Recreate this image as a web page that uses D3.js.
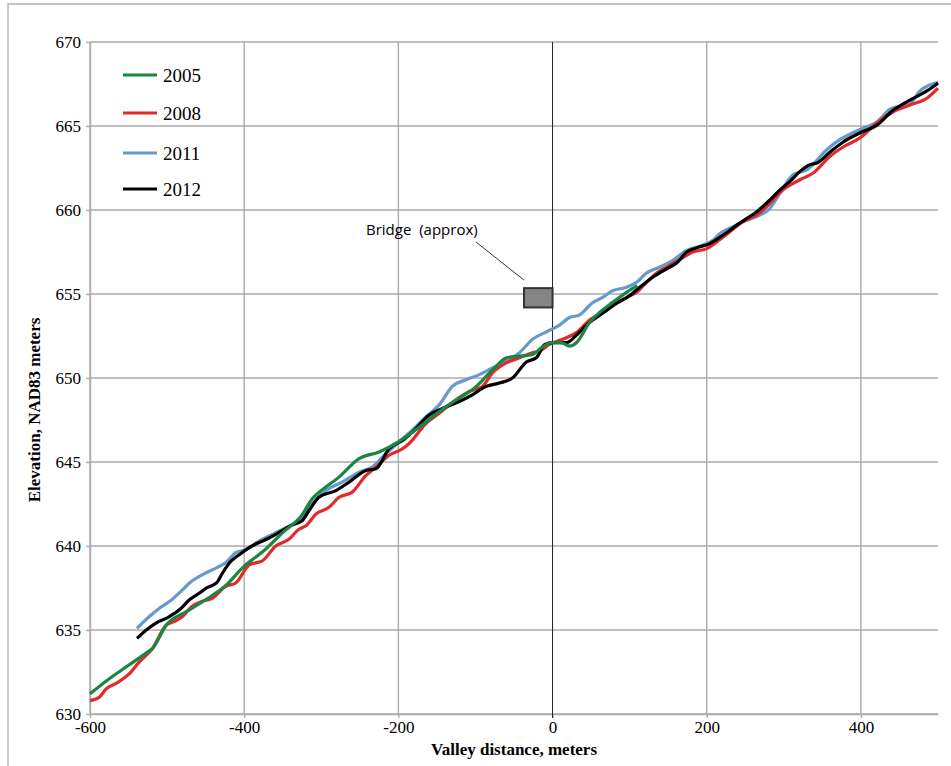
<!DOCTYPE html>
<html>
<head>
<meta charset="utf-8">
<script src="https://cdn.jsdelivr.net/npm/d3@7"></script>
<style>
  html, body { margin: 0; padding: 0; background: #fff; }
  svg { display: block; }
</style>
</head>
<body>
<svg id="chart" width="951" height="766"></svg>
<script>
// Valley profile, [distance m, elevation m]
const profile2005 = [
  [-600, 631.2], [-575, 632.1], [-550, 632.9], [-525, 633.7], [-519, 633.9], [-501, 635.3],
  [-475, 636.1], [-450, 636.8], [-425, 637.6], [-400, 638.8], [-375, 639.7], [-350, 640.8],
  [-325, 641.85], [-312, 642.8], [-300, 643.3], [-277, 644.1], [-251, 645.2], [-225, 645.6],
  [-200, 646.2], [-175, 647.0], [-150, 647.9], [-125, 648.7], [-104, 649.3], [-73, 650.7],
  [-60, 651.2], [-26, 651.4], [-13, 651.85], [0, 652.1], [11, 652.1], [22, 651.9],
  [31, 652.1], [48, 653.3], [61, 653.9], [78, 654.5], [96, 655.1], [110, 655.5]
];
const profile2008 = [
  [-600, 630.8], [-588, 631.0], [-579, 631.5], [-565, 631.85], [-549, 632.4], [-536, 633.1],
  [-519, 633.9], [-501, 635.3], [-491, 635.5], [-480, 635.8], [-468, 636.4], [-455, 636.7],
  [-441, 636.9], [-424, 637.6], [-411, 637.8], [-393, 638.9], [-377, 639.1], [-359, 640.0],
  [-342, 640.4], [-329, 641.0], [-320, 641.2], [-307, 641.9], [-290, 642.3], [-277, 642.9],
  [-260, 643.2], [-242, 644.2], [-229, 644.7], [-212, 645.4], [-194, 645.8], [-186, 646.1],
  [-164, 647.3], [-147, 647.9], [-125, 648.7], [-108, 649.2], [-91, 649.5], [-78, 650.3],
  [-60, 650.9], [-43, 651.2], [-26, 651.5], [-17, 651.6], [-4, 652.0], [18, 652.4],
  [31, 652.7], [48, 653.45], [65, 653.9], [78, 654.3], [96, 654.8], [109, 655.1],
  [122, 655.7], [135, 656.25], [148, 656.6], [165, 657.05], [182, 657.5], [200, 657.7],
  [213, 658.1], [230, 658.7], [247, 659.3], [265, 659.7], [282, 660.4], [299, 661.2],
  [321, 661.8], [338, 662.2], [360, 663.2], [377, 663.75], [399, 664.3], [421, 665.2],
  [442, 665.85], [464, 666.25], [487, 666.7], [500, 667.25]
];
const profile2011 = [
  [-539, 635.1], [-523, 635.8], [-510, 636.3], [-494, 636.8], [-482, 637.3], [-471, 637.8],
  [-454, 638.3], [-436, 638.7], [-424, 639.0], [-411, 639.6], [-397, 639.8], [-384, 640.2],
  [-359, 640.8], [-333, 641.4], [-325, 641.65], [-312, 642.5], [-294, 643.3], [-273, 643.8],
  [-251, 644.4], [-234, 644.7], [-216, 645.5], [-199, 646.2], [-182, 646.9], [-164, 647.7],
  [-147, 648.4], [-130, 649.5], [-112, 649.9], [-95, 650.2], [-78, 650.6], [-60, 651.0],
  [-43, 651.5], [-26, 652.3], [-8, 652.75], [9, 653.15], [22, 653.6], [35, 653.75],
  [51, 654.45], [65, 654.8], [78, 655.2], [96, 655.4], [109, 655.7], [122, 656.25],
  [139, 656.6], [156, 657.0], [174, 657.6], [191, 657.85], [208, 658.2], [217, 658.6],
  [234, 659.0], [252, 659.4], [269, 659.7], [282, 660.1], [295, 661.0], [312, 662.1],
  [330, 662.4], [356, 663.6], [373, 664.2], [399, 664.8], [421, 665.25], [438, 666.0],
  [464, 666.35], [477, 667.1], [500, 667.6]
];
const profile2012 = [
  [-539, 634.5], [-527, 635.0], [-515, 635.4], [-497, 635.8], [-484, 636.2], [-471, 636.8],
  [-458, 637.2], [-449, 637.5], [-436, 637.8], [-428, 638.4], [-419, 639.0], [-406, 639.5],
  [-390, 640.0], [-371, 640.4], [-355, 640.8], [-338, 641.25], [-325, 641.5], [-316, 642.1],
  [-303, 642.9], [-281, 643.3], [-264, 643.8], [-242, 644.5], [-229, 644.6], [-212, 645.8],
  [-194, 646.3], [-177, 647.0], [-160, 647.8], [-142, 648.2], [-121, 648.6], [-104, 649.0],
  [-86, 649.5], [-69, 649.7], [-52, 650.0], [-34, 650.95], [-21, 651.2], [-10, 652.0],
  [0, 652.1], [18, 652.1], [31, 652.55], [48, 653.3], [65, 653.85], [83, 654.45],
  [100, 654.9], [113, 655.4], [130, 656.0], [148, 656.5], [161, 656.85], [174, 657.5],
  [187, 657.75], [204, 658.0], [221, 658.5], [239, 659.1], [252, 659.5], [265, 659.9],
  [282, 660.6], [295, 661.2], [308, 661.7], [321, 662.3], [334, 662.7], [343, 662.8],
  [360, 663.45], [377, 664.05], [399, 664.6], [421, 665.05], [442, 665.95], [464, 666.55],
  [486, 667.1], [500, 667.55]
];
const seriesNames = ['2005', '2008', '2011', '2012'];
const xTicks = [-600, -400, -200, 0, 200, 400];
const yTicks = [630, 635, 640, 645, 650, 655, 660, 665, 670];
const bridgeBox = { x0: -37, x1: 0, y0: 654.2, y1: 655.35 };

const colors = { '2005': '#1b8543', '2008': '#e2292c', '2011': '#6699cc', '2012': '#000000' };
const profiles = { '2005': profile2005, '2008': profile2008, '2011': profile2011, '2012': profile2012 };

const svg = d3.select('#chart');
const margin = { top: 42, right: 13, bottom: 52, left: 90 };
const width = 951, height = 766;
const serif = '"Liberation Serif", "Times New Roman", serif';

const x = d3.scaleLinear().domain([-600, 500]).range([margin.left, width - margin.right]);
const y = d3.scaleLinear().domain([630, 670]).range([height - margin.bottom, margin.top]);

// outer frame (cropped at right/bottom)
svg.append('path')
  .attr('d', `M8,${height} L8,4 L${width},4`)
  .attr('fill', 'none')
  .attr('stroke', '#b3b3b3')
  .attr('stroke-width', 1.5);

const gridColor = '#ababab';

// horizontal grid
svg.append('g')
  .selectAll('line')
  .data(yTicks)
  .join('line')
  .attr('x1', x(-600)).attr('x2', x(500))
  .attr('y1', d => y(d)).attr('y2', d => y(d))
  .attr('stroke', gridColor).attr('stroke-width', 1.4);

// vertical grid
svg.append('g')
  .selectAll('line')
  .data(xTicks.filter(d => d !== 0))
  .join('line')
  .attr('x1', d => x(d)).attr('x2', d => x(d))
  .attr('y1', y(630)).attr('y2', y(670))
  .attr('stroke', gridColor).attr('stroke-width', 1.4);

// Y axis
const yAxis = svg.append('g')
  .attr('transform', `translate(${x(-600)},0)`)
  .call(d3.axisLeft(y).tickValues(yTicks).tickFormat(d => String(d))
    .tickSize(4).tickPadding(5).tickSizeOuter(0));
yAxis.select('.domain').attr('stroke', gridColor).attr('stroke-width', 1.4);
yAxis.selectAll('.tick line').attr('stroke', gridColor).attr('stroke-width', 1.4);
yAxis.selectAll('.tick text')
  .attr('font-family', serif)
  .attr('font-size', 17).attr('fill', '#000');

// X axis
const xAxis = svg.append('g')
  .attr('transform', `translate(0,${y(630)})`)
  .call(d3.axisBottom(x).tickValues(xTicks).tickFormat(d => String(d))
    .tickSize(4).tickPadding(3).tickSizeOuter(0));
xAxis.select('.domain').attr('stroke', gridColor).attr('stroke-width', 1.4);
xAxis.selectAll('.tick line').attr('stroke', gridColor).attr('stroke-width', 1.4);
xAxis.selectAll('.tick text')
  .attr('font-family', serif)
  .attr('font-size', 17).attr('fill', '#000');

// zero line
svg.append('line')
  .attr('x1', x(0)).attr('x2', x(0))
  .attr('y1', y(630) + 4).attr('y2', y(670))
  .attr('stroke', '#222').attr('stroke-width', 1);

// axis titles
svg.append('text')
  .attr('x', (x(-600) + x(500)) / 2).attr('y', 755)
  .attr('text-anchor', 'middle')
  .attr('font-family', serif)
  .attr('font-weight', 'bold').attr('font-size', 17)
  .text('Valley distance, meters');

svg.append('text')
  .attr('transform', `translate(40,410) rotate(-90)`)
  .attr('text-anchor', 'middle')
  .attr('font-family', serif)
  .attr('font-weight', 'bold').attr('font-size', 17)
  .text('Elevation, NAD83 meters');

// profile lines
const line = d3.line()
  .x(d => x(d[0]))
  .y(d => y(d[1]))
  .curve(d3.curveMonotoneX);

['2011', '2008', '2012', '2005'].forEach(name => {
  svg.append('path')
    .datum(profiles[name])
    .attr('fill', 'none')
    .attr('stroke', colors[name])
    .attr('stroke-width', 3.2)
    .attr('stroke-linejoin', 'round')
    .attr('d', line);
});

// bridge marker
svg.append('rect')
  .attr('x', x(bridgeBox.x0)).attr('y', y(bridgeBox.y1))
  .attr('width', x(bridgeBox.x1) - x(bridgeBox.x0))
  .attr('height', y(bridgeBox.y0) - y(bridgeBox.y1))
  .attr('fill', '#858585')
  .attr('stroke', '#333').attr('stroke-width', 2);

svg.append('line')
  .attr('x1', 476).attr('y1', 242)
  .attr('x2', x(bridgeBox.x0)).attr('y2', y(bridgeBox.y1) - 8)
  .attr('stroke', '#333').attr('stroke-width', 1);

svg.append('text')
  .attr('x', 366).attr('y', 235)
  .attr('font-family', '"Open Sans", "DejaVu Sans", sans-serif')
  .attr('font-size', 15)
  .attr('xml:space', 'preserve')
  .style('white-space', 'pre')
  .text('Bridge  (approx)');

// legend
const legend = svg.append('g').attr('transform', 'translate(123,75)');
seriesNames.forEach((name, i) => {
  const yy = [0, 38, 78, 114][i];
  legend.append('line')
    .attr('x1', 0).attr('x2', 34)
    .attr('y1', yy).attr('y2', yy)
    .attr('stroke', colors[name]).attr('stroke-width', 3.2);
  legend.append('text')
    .attr('x', 40).attr('y', yy)
    .attr('dy', '0.35em')
    .attr('font-family', serif)
    .attr('font-size', 19)
    .text(name);
});
</script>
</body>
</html>
